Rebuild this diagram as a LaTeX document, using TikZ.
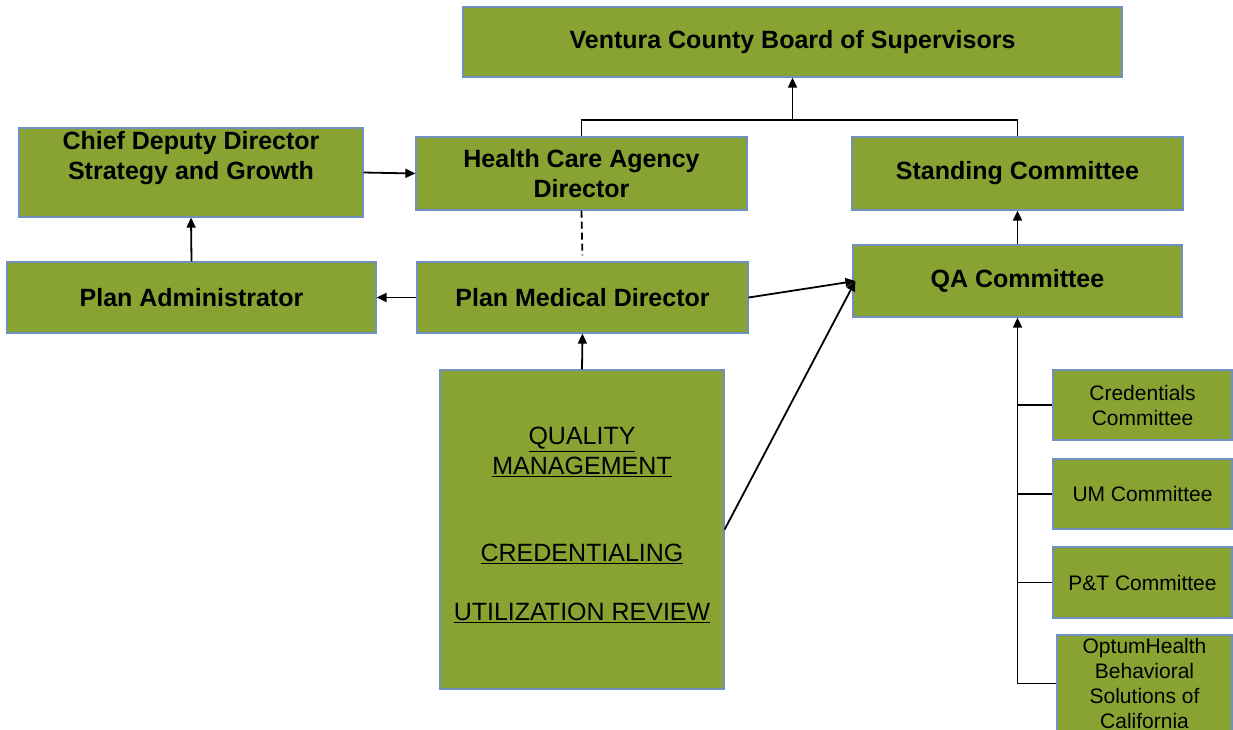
\documentclass[tikz,border=0pt]{standalone}
\usepackage{fontspec}
\setmainfont{Liberation Sans}
\usetikzlibrary{arrows.meta,positioning}
\definecolor{boxgreen}{RGB}{137,163,51}
\definecolor{boxline}{RGB}{112,144,192}
\begin{document}
\begin{tikzpicture}[
x=1pt, y=-1pt,
box/.style={draw=boxline, line width=1.2pt, fill=boxgreen, inner sep=0pt, align=center},
bigtext/.style={font=\bfseries\fontsize{25}{30}\selectfont},
smalltext/.style={font=\fontsize{21}{25}\selectfont},
link/.style={line width=1.8pt, >={Triangle[length=10pt,width=9pt]}},
dotted link/.style={link, dash pattern=on 7pt off 4pt, shorten >=6pt}
]
    \useasboundingbox (0,0) rectangle (1233,729);

    % top row
    \node[box, bigtext, minimum width=659, minimum height=70] (board) at (792.5,42)
        {Ventura County Board of Supervisors};
    \node[box, bigtext, minimum width=344, minimum height=89] (chief) at (191,172.5)
        {Chief Deputy Director\\Strategy and Growth\\[-5pt]\strut};
    \node[box, bigtext, minimum width=331, minimum height=73] (hca) at (581.5,173.5)
        {Health Care Agency\\Director};
    \node[box, bigtext, minimum width=331, minimum height=73] (standing) at (1017.5,173.5)
        {Standing Committee};

    % middle row
    \node[box, bigtext, minimum width=369, minimum height=71] (padmin) at (191.5,297.5)
        {Plan Administrator};
    \node[box, bigtext, minimum width=331, minimum height=71] (pmd) at (582.5,297.5)
        {Plan Medical Director};
    \node[box, bigtext, minimum width=329, minimum height=72] (qa) at (1017.5,281)
        {QA Committee};

    % quality management box
    \node[box, minimum width=284, minimum height=319] (qm) at (582,529.5) {};
    \node[align=center, font=\fontsize{25}{29.5}\selectfont] (qmtext) at (582,525)
        {\underline{QUALITY}\\\underline{MANAGEMENT}\\[58pt]\underline{CREDENTIALING}\\[29pt]\underline{UTILIZATION REVIEW}};

    % committees
    \node[box, smalltext, minimum width=179, minimum height=70] (cred) at (1142.5,405)
        {Credentials\\Committee};
    \node[box, smalltext, minimum width=179, minimum height=70] (umc) at (1142.5,494)
        {UM Committee};
    \node[box, smalltext, minimum width=179, minimum height=71] (ptc) at (1142.5,582.5)
        {P\&T Committee};
    \node[box, smalltext, minimum width=175, minimum height=97] (optum) at (1144.5,683.5)
        {OptumHealth\\Behavioral\\Solutions of\\California};

    % connectors
    \coordinate (bus) at (792.5,120);
    \draw[link] (hca.north) |- (bus) -| (standing.north);
    \draw[link,->] (bus) -- (board.south);
    \draw[link,->] (chief.east) -- (hca.west);
    \draw[link,->] (padmin.north) -- (chief.south);
    \draw[link,->] (pmd.west) -- (padmin.east);
    \draw[dotted link] (hca.south) -- (pmd.north);
    \draw[link,->] (pmd.east) -- ([xshift=3pt]qa.west);
    \draw[link,->] (qm.east) -- ([xshift=3pt]qa.west);
    \draw[link,->] (qm.north) -- (pmd.south);
    \draw[link,->] (qa.north) -- (standing.south);

    \draw[link,->] (qa.south |- optum.west) -- (qa.south);
    \foreach \c in {cred,umc,ptc,optum}
        \draw[link] (qa.south |- \c.west) -- (\c.west);

\end{tikzpicture}
\end{document}
